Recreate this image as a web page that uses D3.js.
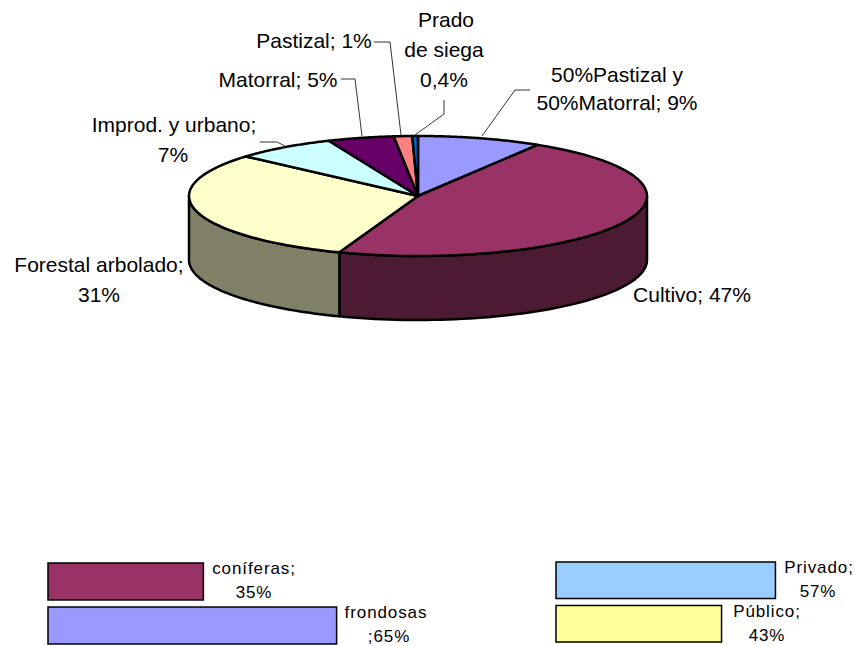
<!DOCTYPE html>
<html lang="es">
<head>
<meta charset="UTF-8">
<title>Usos del suelo</title>
<script src="https://d3js.org/d3.v7.min.js"></script>
<style>
  html, body { margin: 0; background: #fff; }
  svg { display: block; }
  text { font-family: "Liberation Sans", Arial, sans-serif; fill: #000; }
</style>
</head>
<body>
<div id="chart"></div>
<script>
// datos
const usos = ["50%Pastizal y 50%Matorral", "Cultivo", "Forestal arbolado", "Improd. y urbano", "Matorral", "Pastizal", "Prado de siega"];
const usosValores = [8.8, 47, 31, 7.2, 4.7, 1.3, 0.4];
const usosColores = ["#9999ff", "#993366", "#ffffcc", "#ccffff", "#660066", "#ff8080", "#0066cc"];
const ladoColores = ["#4d4d80", "#4c1a33", "#808066", "#668080", "#330033", "#804040", "#003366"];

const especies = ["coníferas", "frondosas"];
const especiesValores = [35, 65];
const especiesColores = ["#993366", "#9999ff"];

const propiedad = ["Privado", "Público"];
const propiedadValores = [57, 43];
const propiedadColores = ["#99ccff", "#ffff99"];

const width = 856, height = 646;
const svg = d3.select("#chart").append("svg")
  .attr("width", width).attr("height", height)
  .attr("viewBox", [0, 0, width, height]);

// pastel 3D: circulo unidad aplastado con dos escalas
const px = d3.scaleLinear().domain([-1, 1]).range([189, 647]);
const py = d3.scaleLinear().domain([-1, 1]).range([136, 256]);
const depth = 64;
const pie = d3.pie().sort(null).value(d => d)(usosValores);

const toXY = a => [px(Math.sin(a)), py(-Math.cos(a))];
const line = d3.line();
const sample = (a0, a1) => d3.range(0, 61).map(i => a0 + (a1 - a0) * i / 60);

// paredes: solo la mitad delantera (PI/2 .. 3PI/2)
const walls = svg.append("g");
pie.forEach((d, i) => {
  const a0 = Math.max(d.startAngle, Math.PI / 2), a1 = Math.min(d.endAngle, 3 * Math.PI / 2);
  if (a1 <= a0) return;
  const top = sample(a0, a1).map(toXY);
  const bottom = top.map(p => [p[0], p[1] + depth]).reverse();
  walls.append("path")
    .attr("d", line(top.concat(bottom)) + "Z")
    .attr("fill", ladoColores[i])
    .attr("stroke", "#000").attr("stroke-width", 2.5).attr("stroke-linejoin", "round");
});

// cara superior
const center = [px(0), py(0)];
svg.append("g").selectAll("path").data(pie).join("path")
  .attr("d", d => line([center].concat(sample(d.startAngle, d.endAngle).map(toXY))) + "Z")
  .attr("fill", (d, i) => usosColores[i])
  .attr("stroke", "#000").attr("stroke-width", 2.5).attr("stroke-linejoin", "round");

// lineas guia
const guias = [
  [[530, 90], [515, 90], [482, 136]],
  [[444, 100], [444, 114], [415, 135]],
  [[374, 42], [390, 42], [401, 135]],
  [[341, 79], [355, 79], [362, 136]],
  [[260, 142], [277, 142], [285, 146]]
];
svg.append("g").selectAll("path").data(guias).join("path")
  .attr("d", d => line(d))
  .attr("fill", "none").attr("stroke", "#000").attr("stroke-width", 0.8);

// etiquetas del pastel
const etiquetas = [
  { x: 617, y: 82, t: "50%Pastizal y" },
  { x: 617, y: 110, t: "50%Matorral; 9%" },
  { x: 692, y: 302, t: "Cultivo; 47%" },
  { x: 99, y: 272, t: "Forestal arbolado;" },
  { x: 99, y: 302, t: "31%" },
  { x: 174, y: 132, t: "Improd. y urbano;" },
  { x: 173, y: 162, t: "7%" },
  { x: 278, y: 87, t: "Matorral; 5%" },
  { x: 314, y: 48, t: "Pastizal; 1%" },
  { x: 446, y: 27, t: "Prado" },
  { x: 444, y: 57, t: "de siega" },
  { x: 444, y: 87, t: "0,4%" }
];
svg.append("g").selectAll("text").data(etiquetas).join("text")
  .attr("x", d => d.x).attr("y", d => d.y)
  .attr("text-anchor", "middle").attr("font-size", 21)
  .text(d => d.t);

// barras de abajo
function barras(cats, vals, cols, x0, k, top, bottom, notas) {
  const x = d3.scaleLinear().domain([0, 100]).range([x0, x0 + k * 100]);
  const y = d3.scaleBand().domain(cats).range([top, bottom]).paddingInner(0.16);
  const g = svg.append("g");
  g.selectAll("rect").data(cats).join("rect")
    .attr("x", x(0)).attr("y", d => y(d))
    .attr("width", (d, i) => x(vals[i]) - x(0)).attr("height", y.bandwidth())
    .attr("fill", (d, i) => cols[i])
    .attr("stroke", "#000").attr("stroke-width", 1.5);
  notas.forEach(n => {
    g.append("text").attr("x", n.x).attr("y", n.y)
      .attr("text-anchor", "middle").attr("font-size", 17)
      .attr("letter-spacing", 0.9).text(n.t);
  });
}
barras(especies, especiesValores, especiesColores, 48, 4.44, 563, 644, [
  { x: 254, y: 574, t: "coníferas;" },
  { x: 254, y: 598, t: "35%" },
  { x: 386, y: 618, t: "frondosas" },
  { x: 389, y: 642, t: ";65%" }
]);
barras(propiedad, propiedadValores, propiedadColores, 556, 3.85, 562, 642, [
  { x: 819, y: 573, t: "Privado;" },
  { x: 818, y: 597, t: "57%" },
  { x: 767, y: 617, t: "Público;" },
  { x: 767, y: 641, t: "43%" }
]);
</script>
</body>
</html>
